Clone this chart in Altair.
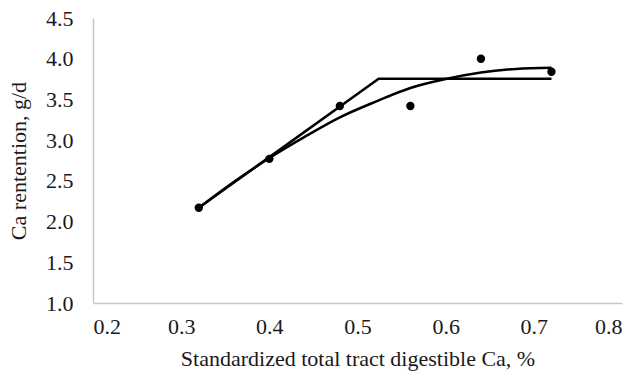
import altair as alt
import pandas as pd

# Observed Ca retention by dietary STTD Ca
obs_x = [0.32, 0.40, 0.48, 0.56, 0.64, 0.72]
obs_y = [2.17, 2.77, 3.42, 3.42, 4.00, 3.84]

# Broken-line (linear plateau) fit
bl_x = [0.32, 0.524, 0.72]
bl_y = [2.17, 3.755, 3.755]

# Quadratic fit
qd_x = [0.32, 0.36, 0.40, 0.44, 0.48, 0.52, 0.56, 0.60, 0.64, 0.68, 0.72]
qd_y = [2.17, 2.49, 2.78, 3.04, 3.28, 3.47, 3.64, 3.75, 3.83, 3.875, 3.89]

FONT = "'Liberation Serif', 'Times New Roman', serif"
FS = 22

obs = pd.DataFrame({"x": obs_x, "y": obs_y})
bl = pd.DataFrame({"x": bl_x, "y": bl_y})
qd = pd.DataFrame({"x": qd_x, "y": qd_y})

xs = alt.Scale(domain=[0.2, 0.8], nice=False, zero=False)
ys = alt.Scale(domain=[1.0, 4.5], nice=False, zero=False)

x_axis = alt.Axis(
    title="Standardized total tract digestible Ca, %",
    values=[0.2, 0.3, 0.4, 0.5, 0.6, 0.7, 0.8],
    format=".1f",
    grid=False, ticks=False,
    domainColor="#c8c8c8", domainWidth=1.5,
    labelFont=FONT, labelFontSize=FS, labelColor="#1a1a1a", labelPadding=13,
    titleFont=FONT, titleFontSize=FS, titleFontWeight="normal", titleColor="#1a1a1a",
    titlePadding=11,
)
y_axis = alt.Axis(
    title="Ca rentention, g/d",
    values=[1.0, 1.5, 2.0, 2.5, 3.0, 3.5, 4.0, 4.5],
    format=".1f",
    grid=False, ticks=False,
    domainColor="#c8c8c8", domainWidth=1.5,
    labelFont=FONT, labelFontSize=FS, labelColor="#1a1a1a", labelPadding=20,
    titleFont=FONT, titleFontSize=FS, titleFontWeight="normal", titleColor="#1a1a1a",
    titlePadding=15,
)

base_x = alt.X("x:Q", scale=xs, axis=x_axis)
base_y = alt.Y("y:Q", scale=ys, axis=y_axis)

broken = alt.Chart(bl).mark_line(color="black", strokeWidth=2.5).encode(x=base_x, y=base_y)
quad = alt.Chart(qd).mark_line(color="black", strokeWidth=2.5, interpolate="monotone").encode(
    x=alt.X("x:Q", scale=xs), y=alt.Y("y:Q", scale=ys)
)
points = alt.Chart(obs).mark_circle(color="black", opacity=1, size=70).encode(
    x=alt.X("x:Q", scale=xs), y=alt.Y("y:Q", scale=ys)
)

chart = (
    alt.layer(broken, quad, points)
    .properties(
        width=529, height=285,
        autosize=alt.AutoSizeParams(type="none"),
        padding={"left": 93, "top": 18, "right": 18, "bottom": 71},
        background="white",
    )
    .configure_view(stroke=None)
)

chart.save("out.html", embed_options={"renderer": "svg", "actions": False})
